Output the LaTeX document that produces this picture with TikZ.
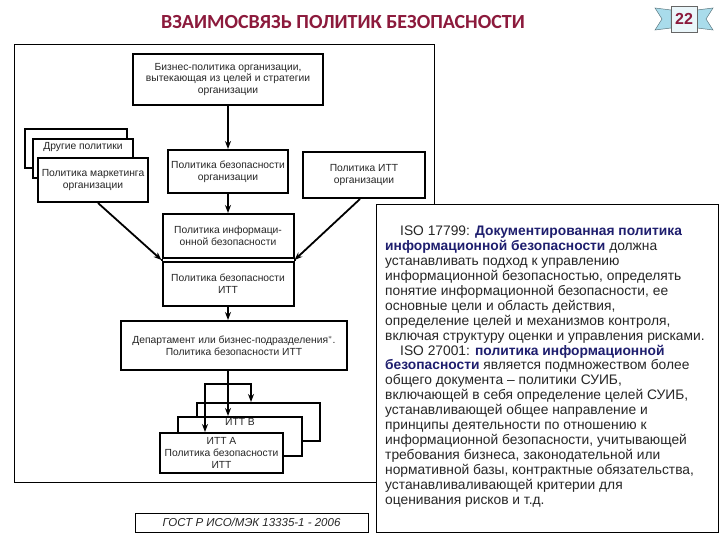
\documentclass[tikz,border=0pt]{standalone}
\usepackage{fontspec}
\setmainfont{Liberation Sans}
\newfontfamily\titlefont{Carlito}
\usetikzlibrary{arrows.meta,calc}
\definecolor{titlered}{HTML}{8C1A3C}
\definecolor{isoblue}{HTML}{1E1E6E}
\definecolor{ribbon}{HTML}{A9DCEB}
\begin{document}
\begin{tikzpicture}[x=1pt,y=-1pt,
            box/.style={draw,line width=2pt,fill=white,inner sep=1pt,align=center,
                font=\fontsize{10.3}{11.8}\selectfont,text=black!85},
            arr/.style={line width=1.8pt,-{Stealth[length=8pt,width=6pt]}},
            tail/.style={fill=ribbon,draw=ribbon!55!black,line width=0.5pt}]
            \useasboundingbox[fill=white] (0,0) rectangle (720,540);
            \node[anchor=base,font=\titlefont\bfseries\fontsize{20}{24}\selectfont,text=titlered] (title) at (343,29) {ВЗАИМОСВЯЗЬ ПОЛИТИК БЕЗОПАСНОСТИ};
            \draw[tail] (671,10) -- (655,8) -- (662,19) -- (655,30) -- (671,28) -- cycle;
            \draw[tail] (697,10) -- (713,8) -- (706,19) -- (713,30) -- (697,28) -- cycle;
            \node[draw=black!60,fill=ribbon!25,minimum width=26pt,minimum height=26pt,
                font=\bfseries\fontsize{16}{18}\selectfont,text=titlered] (badge) at (684,19) {22};
            \draw[line width=0.8pt] (14,44) coordinate (fa) rectangle (434,482) coordinate (fb);
            \node[box,minimum width=190pt,minimum height=51pt] (biz) at (228,79.5) {Бизнес-политика организации,\\вытекающая из целей и стратегии\\организации};
            \node[box,minimum width=102pt,minimum height=39pt] (oth3) at (76,148.5) {};
            \node[box,minimum width=100pt,minimum height=39pt,
                label={[anchor=north,inner sep=0pt,yshift=-4pt,font=\fontsize{10.3}{11.8}\selectfont,text=black!85]north:Другие политики}] (oth2) at (83,158.5) {};
            \node[box,minimum width=110pt,minimum height=44pt] (oth1) at (93,180) {Политика маркетинга\\организации};
            \node[box,minimum width=120pt,minimum height=43pt] (secorg) at (228,171.5) {Политика безопасности\\организации};
            \node[box,minimum width=122pt,minimum height=46pt] (ittorg) at (364,175) {Политика ИТТ\\организации};
            \node[box,minimum width=131pt,minimum height=44pt] (infosec) at (228,236) {Политика информаци-\\онной безопасности};
            \node[box,minimum width=131pt,minimum height=44pt] (ittsec) at (228,284) {Политика безопасности\\ИТТ};
            \draw[line width=2pt] (infosec.south west) -- (ittsec.north west)
                (infosec.south east) -- (ittsec.north east);
            \node[box,minimum width=226pt,minimum height=49pt] (dept) at (234,345.5) {Департамент или бизнес-подразделения$^*$.\\Политика безопасности ИТТ};
            \node[box,minimum width=123pt,minimum height=38pt] (ittC) at (258.5,422) {};
            \node[box,minimum width=124pt,minimum height=39pt,
                label={[anchor=north,inner sep=0pt,yshift=-2pt,font=\fontsize{10.3}{11.8}\selectfont,text=black!85]north:ИТТ В}] (ittB) at (240,436.5) {};
            \node[box,minimum width=123pt,minimum height=40pt] (ittA) at (221.5,453) {ИТТ А\\Политика безопасности\\ИТТ};
            \coordinate (jl) at ($(infosec.south west)!0.5!(ittsec.north west)$);
            \coordinate (jr) at ($(infosec.south east)!0.5!(ittsec.north east)$);
            \draw[arr] (biz.south) -- (secorg.north);
            \draw[arr] (secorg.south) -- (infosec.north);
            \draw[arr] ($(oth1.south)+(5,0)$) -- (jl);
            \draw[arr] ($(ittorg.south)+(-4,0)$) -- (jr);
            \draw[arr] (ittsec.south) -- (dept.north -| ittsec.south);
            \draw[arr] (dept.south -| ittsec.south) -- (ittB.north -| ittsec.south);
            \draw[line width=1.8pt,{Stealth[length=8pt,width=6pt]}-{Stealth[length=8pt,width=6pt]}]
                ($(ittA.north west)+(46,0)$) -- ++(0,-48) -| ($(ittC.north west)+(55,0)$);
            \node[draw,line width=0.8pt,minimum width=233pt,minimum height=19pt,inner sep=1pt,
                font=\itshape\fontsize{11.5}{13}\selectfont,text=black!85] (gost) at (251.5,522.5) {ГОСТ Р ИСО/МЭК 13335-1 - 2006};
            \draw[line width=1pt,fill=white] (376,205) rectangle (718,532);
            \node[anchor=north west,align=left,inner sep=0pt,font=\fontsize{13.8}{14.9}\selectfont,text=black!85] (isotext) at (385,226) {%
                \hspace*{15pt}ISO 17799: \textbf{\textcolor{isoblue}{Документированная политика}}\\
                \textbf{\textcolor{isoblue}{информационной безопасности}} должна\\
                устанавливать подход к управлению\\
                информационной безопасностью, определять\\
                понятие информационной безопасности, ее\\
                основные цели и область действия,\\
                определение целей и механизмов контроля,\\
                включая структуру оценки и управления рисками.\\
                \hspace*{15pt}ISO 27001: \textbf{\textcolor{isoblue}{политика информационной}}\\
                \textbf{\textcolor{isoblue}{безопасности}} является подмножеством более\\
                общего документа – политики СУИБ,\\
                включающей в себя определение целей СУИБ,\\
                устанавливающей общее направление и\\
                принципы деятельности по отношению к\\
                информационной безопасности, учитывающей\\
                требования бизнеса, законодательной или\\
                нормативной базы, контрактные обязательства,\\
                устанавливаливающей критерии для\\
                оценивания рисков и т.д.};
        \end{tikzpicture}
\end{document}
